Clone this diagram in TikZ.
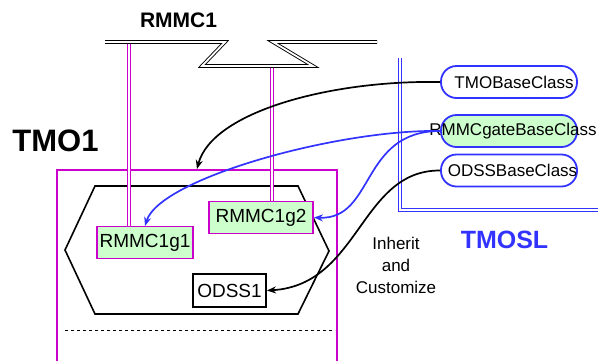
\documentclass[tikz,border=0pt]{standalone}
\usepackage{fontspec}
\setmainfont{Liberation Sans}
\usetikzlibrary{arrows.meta}
\definecolor{mag}{RGB}{204,0,204}
\definecolor{lgreen}{RGB}{204,255,204}
\definecolor{blu}{RGB}{51,51,255}
\begin{document}
\begin{tikzpicture}[x=1pt,y=-1pt,
  pill/.style={draw=blu, line width=1.8pt, fill=white, rounded corners=15.5pt, minimum width=136pt, minimum height=32pt, inner sep=0pt},
  gbox/.style={draw=mag, line width=1.9pt, fill=lgreen, font=\fontsize{19}{20}\selectfont, inner sep=0pt, minimum height=32pt},
  wbox/.style={draw=black, line width=1.9pt, fill=white, font=\fontsize{19}{20}\selectfont, inner sep=0pt, minimum height=33pt},
  bus/.style={draw=black, double=white, double distance=1.8pt, line width=0.9pt},
  magline/.style={draw=mag, double=white, double distance=1.8pt, line width=1pt},
  blueline/.style={draw=blu, double=white, double distance=1.8pt, line width=1pt},
  inh/.style={line width=1.7pt, -{Stealth[length=9pt,width=7pt]}},
  classtxt/.style={font=\fontsize{17}{18}\selectfont, inner sep=0pt}
]
\useasboundingbox (0,0) rectangle (598,360);
% labels
\node[font=\bfseries\fontsize{21}{22}\selectfont, inner sep=0pt] (rmmc1) at (178.5,20.5) {RMMC1};
\node[font=\bfseries\fontsize{31}{34}\selectfont, inner sep=0pt] (tmo1) at (55.5,140.5) {TMO1};
\node[font=\bfseries\fontsize{25}{26}\selectfont, text=blu, inner sep=0pt] (tmosl) at (504.5,239.5) {TMOSL};
\node[font=\fontsize{17}{22}\selectfont, align=center, inner sep=0pt] (inhtxt) at (396,265) {Inherit\\and\\Customize};
% bus
\draw[bus, line join=miter] (105,42) -- (225,42) -- (202,66) -- (313,66) -- (273,42) -- (377,42);
% TMOSL frame
\draw[blueline] (400,58) -- (400,210) -- (600,210);
% TMO1 box
\draw[mag, line width=1.9pt] (57,370) -- (57,170) -- (337,170) -- (337,370);
\coordinate (tmotop) at (197,169);
% hexagon
\draw[black, line width=1.6pt, line join=miter] (95,186) -- (298,186) -- (329,251) -- (298,314) -- (95,314) -- (65,250) -- cycle;
% dashed
\draw[black, dashed, line width=1pt] (65,330) -- (335,330);
% nodes
\node[gbox, minimum width=96pt] (g1) at (145,242.5) {RMMC1g1};
\node[gbox, minimum width=104pt] (g2) at (261,217.5) {RMMC1g2};
\node[wbox, minimum width=73pt] (odss1) at (229.5,290.5) {ODSS1};
% magenta drops
\draw[magline] (129,43.5) -- (129,241 |- g1.north);
\draw[magline] (272,67.5) -- (272,0 |- g2.north);
% base classes
\node[pill] (tmob) at (509,82) {};
\node[classtxt] at (514,82) {TMOBaseClass};
\node[pill, fill=lgreen] (rmgb) at (509,131) {};
\node[classtxt] at (513,131) {RMMCgateBaseClass};
\node[pill] (odsb) at (509,170.5) {};
\node[classtxt] at (512.5,170.5) {ODSSBaseClass};
% arrows
\draw[inh] (tmob.west) .. controls (330,80) and (212,112) .. (tmotop);
\draw[inh, blu] (rmgb.west) .. controls (340,129) and (160,178) .. (145,226);
\draw[inh, blu] (rmgb.west) .. controls (360,131) and (375,220) .. (g2.east);
\draw[inh] (odsb.west) .. controls (360,170) and (360,285) .. (odss1.east);
\end{tikzpicture}
\end{document}
